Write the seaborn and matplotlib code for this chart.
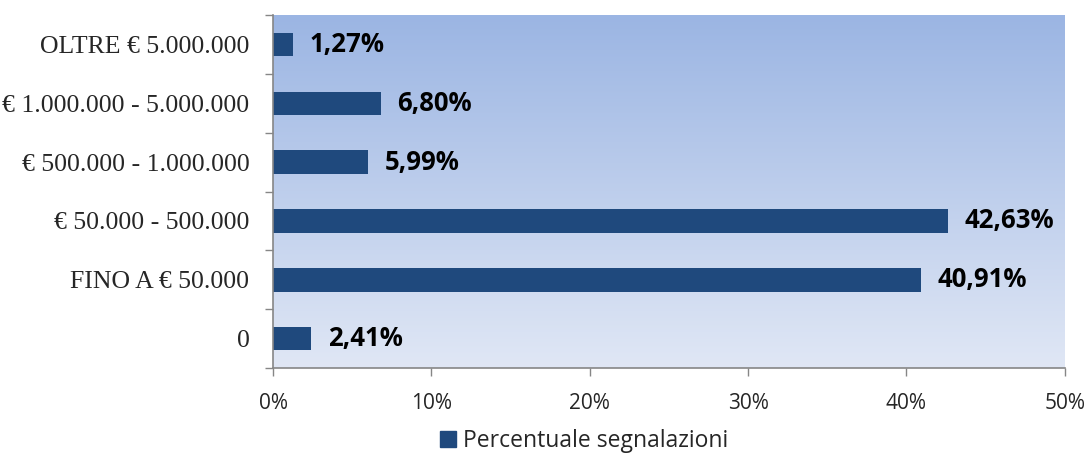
import numpy as np
import pandas as pd
import matplotlib
matplotlib.use("Agg")
import matplotlib.pyplot as plt
from matplotlib.patches import Patch
from matplotlib.colors import LinearSegmentedColormap
import seaborn as sns

categories = ["OLTRE € 5.000.000", "€ 1.000.000 - 5.000.000", "€ 500.000 - 1.000.000",
              "€ 50.000 - 500.000", "FINO A € 50.000", "0"]
values = [1.27, 6.80, 5.99, 42.63, 40.91, 2.41]
value_labels = ["1,27%", "6,80%", "5,99%", "42,63%", "40,91%", "2,41%"]
x_ticks = [0, 10, 20, 30, 40, 50]
x_tick_labels = ["0%", "10%", "20%", "30%", "40%", "50%"]
series_name = "Percentuale segnalazioni"

bar_color = "#1F497D"
axis_color = "#868686"
sans = ["Liberation Sans Narrow", "Open Sans", "DejaVu Sans"]
serif = ["Liberation Serif", "DejaVu Serif"]

sns.set_theme(style="white")
plt.rcParams["font.family"] = sans

df = pd.DataFrame({"categoria": categories, "valore": values})

fig = plt.figure(figsize=(10.92, 4.55), dpi=100)
ax = fig.add_axes([0.25, 0.191, 0.725, 0.776])

# vertical gradient background of the plot area
grad = np.linspace(0, 1, 256).reshape(-1, 1)
cmap = LinearSegmentedColormap.from_list("bg", ["#9BB5E3", "#E0E7F5"])
ax.imshow(grad, cmap=cmap, aspect="auto", extent=[0, 1, 0, 1],
          transform=ax.transAxes, zorder=0, interpolation="bicubic", origin="upper")

sns.barplot(data=df, y="categoria", x="valore", orient="h", color=bar_color,
            saturation=1, width=0.4, ax=ax, zorder=2, linewidth=0)

ax.set_xlim(0, 50)
ax.set_ylim(len(categories) - 0.5, -0.5)
ax.set_xlabel("")
ax.set_ylabel("")

ax.set_xticks(x_ticks)
ax.set_xticklabels(x_tick_labels, fontsize=15, family=sans)
ax.tick_params(axis="x", which="major", direction="out", length=6, width=1,
               color=axis_color, pad=12, bottom=True)

ax.set_yticks(range(len(categories)))
ax.set_yticklabels(categories, fontsize=18.5, family=serif)
ax.tick_params(axis="y", which="major", length=0, pad=17)
ax.set_yticks(np.arange(-0.5, len(categories), 1.0), minor=True)
ax.tick_params(axis="y", which="minor", direction="out", length=6, width=1,
               color=axis_color, left=True)

for side in ["top", "right"]:
    ax.spines[side].set_visible(False)
for side in ["left", "bottom"]:
    ax.spines[side].set_color(axis_color)
    ax.spines[side].set_linewidth(1.2)
    ax.spines[side].set_zorder(3)

for i, (v, lab) in enumerate(zip(values, value_labels)):
    ax.annotate(lab, xy=(v, i), xytext=(12, 0), textcoords="offset points",
                va="center", ha="left", fontsize=18.5, fontweight="bold",
                family=["Open Sans", "DejaVu Sans"], color="black", zorder=4)

handle = Patch(facecolor=bar_color, edgecolor=bar_color)
fig.legend([handle], [series_name], loc="center", bbox_to_anchor=(0.535, 0.03),
           frameon=False, handlelength=0.7, handleheight=0.7,
           handletextpad=0.3, prop={"family": sans, "size": 16.5})

fig.savefig("out.png", dpi=100, facecolor="white")
